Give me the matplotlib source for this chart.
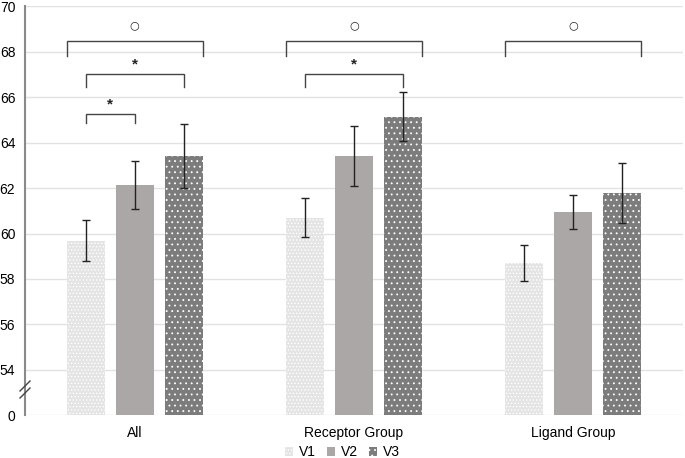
import matplotlib.pyplot as plt
import numpy as np

plt.rcParams['font.family'] = ['Liberation Sans', 'DejaVu Sans']
plt.rcParams['hatch.linewidth'] = 0.6

# data
groups = ["All", "Receptor Group", "Ligand Group"]
series = ["V1", "V2", "V3"]
v1 = [59.68, 60.70, 58.72]
v2 = [62.12, 63.40, 60.95]
v3 = [63.40, 65.14, 61.78]
v1_err = [0.90, 0.86, 0.79]
v2_err = [1.06, 1.32, 0.74]
v3_err = [1.40, 1.08, 1.31]
ytick_vals = [54, 56, 58, 60, 62, 64, 66, 68, 70]

# significance brackets: (group, from series, to series, label, level)
brackets = [
    (0, 0, 2, "○", 0), (0, 0, 2, "*", 1), (0, 0, 1, "*", 2),
    (1, 0, 2, "○", 0), (1, 0, 2, "*", 1),
    (2, 0, 2, "○", 0),
]

base = 52  # axis is broken, "0" drawn at 52
colors = ["#e4e4e4", "#aba7a7", "#7c7c7c"]
hatches = [".....", None, "..."]
offsets = [-0.223, 0.0, 0.223]
width = 0.173

fig = plt.figure(figsize=(6.85, 4.58), dpi=100)
ax = fig.add_axes([25 / 685, 1 - 415.3 / 458, 658 / 685, (415.3 - 6.3) / 458])

x = np.arange(len(groups))
for i, (vals, errs) in enumerate(zip([v1, v2, v3], [v1_err, v2_err, v3_err])):
    heights = np.array(vals) - base
    ax.bar(x + offsets[i], heights, width, bottom=base, color=colors[i],
           edgecolor="white" if hatches[i] else colors[i], linewidth=0,
           hatch=hatches[i], label=series[i], zorder=2)
    ax.errorbar(x + offsets[i], vals, yerr=errs, fmt="none", ecolor="#222222",
                elinewidth=1, capsize=3, capthick=1, zorder=3)

# brackets
levels = {0: (68.47, 67.83, 69.17), 1: (67.0, 66.47, 67.45), 2: (65.25, 64.88, 65.7)}
for g, a, b, lab, lev in brackets:
    top, bot, ty = levels[lev]
    if lev == 0:
        xa = g + offsets[a] - width / 2
        xb = g + offsets[b] + width / 2
    else:
        xa = g + offsets[a]
        xb = g + offsets[b]
    ax.plot([xa, xa, xb, xb], [bot, top, top, bot], color="#444444", lw=1,
            solid_joinstyle="miter", zorder=4)
    if lab == "*":
        ax.text((xa + xb) / 2, ty, lab, ha="center", va="center",
                fontsize=11, fontweight="bold", color="#222222")
    else:
        ax.text((xa + xb) / 2, ty, lab, ha="center", va="center",
                fontsize=8, color="#222222", family="DejaVu Sans")

ax.set_xlim(-0.5, 2.5)
ax.set_ylim(base, 70)
ax.set_yticks([base] + ytick_vals)
ax.set_yticklabels(["0"] + [str(v) for v in ytick_vals])
ax.set_xticks(x)
ax.set_xticklabels(groups)
ax.tick_params(axis="both", length=0, labelsize=10, colors="#000000")
ax.tick_params(axis="y", pad=7)
ax.tick_params(axis="x", pad=8)
ax.yaxis.grid(True, color="#e2e2e2", lw=1, zorder=0)
ax.set_axisbelow(True)
for s in ["top", "right", "bottom"]:
    ax.spines[s].set_visible(False)
ax.spines["left"].set_color("#8a8a8a")
ax.spines["left"].set_linewidth(1.5)

# axis break marks
bx = 25
for by in [386, 393]:
    fig.add_artist(plt.Line2D([(bx - 5) / 685, (bx + 5) / 685],
                              [1 - (by + 5) / 458, 1 - (by - 5) / 458],
                              color="#444444", lw=1))

leg = fig.legend(loc="center", bbox_to_anchor=(0.5, 1 - 452 / 458), ncol=3,
                 frameon=False, fontsize=10, handlelength=0.6, handleheight=0.6,
                 handletextpad=0.4, columnspacing=0.8)

fig.savefig("out.png", dpi=100)
